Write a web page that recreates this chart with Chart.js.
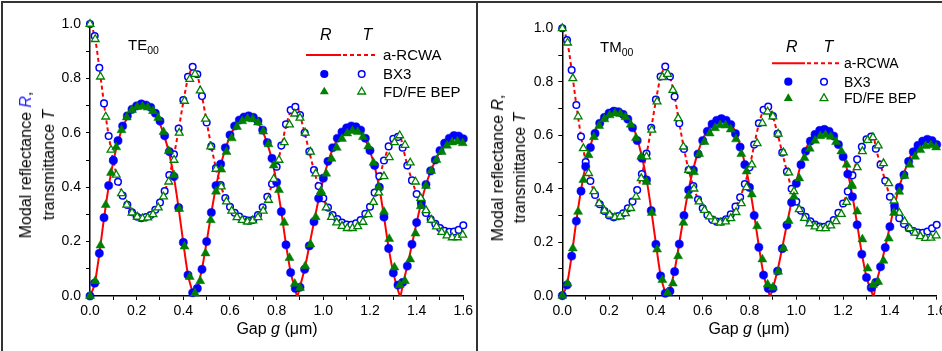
<!DOCTYPE html>
<html><head><meta charset="utf-8">
<script src="https://cdn.jsdelivr.net/npm/chart.js@4.4.1/dist/chart.umd.min.js"></script>
<style>
html,body{margin:0;padding:0;background:#fff;}
body{width:942px;height:351px;overflow:hidden;position:relative;font-family:"Liberation Sans",Arial,Helvetica,sans-serif;color:#000;}
canvas{position:absolute;top:0;}
.t{position:absolute;white-space:nowrap;line-height:18px;}
.yt{position:absolute;white-space:nowrap;text-align:center;font-size:16px;transform:translate(-50%,-50%) rotate(-90deg);}
.xt{position:absolute;white-space:nowrap;font-size:16px;line-height:20px;transform:translateX(-50%);}
.fr{position:absolute;background:#333;}
sub{font-size:0.7em;vertical-align:-0.35em;}
</style></head>
<body>
<canvas id="cL" width="477" height="351" style="left:0"></canvas>
<canvas id="cR" width="500" height="351" style="left:477px"></canvas>

<div class="fr" style="left:1px;top:1px;width:941px;height:2px"></div>
<div class="fr" style="left:1px;top:1px;width:2px;height:350px"></div>
<div class="fr" style="left:476px;top:1px;width:2px;height:350px"></div>

<!-- left panel texts -->
<div class="yt" style="left:36.5px;top:165px;line-height:23px">Modal reflectance <i style="color:#2020ff">R</i>,<br>transmittance <i>T</i></div>
<div class="xt" style="left:277px;top:319px">Gap <i>g</i> (μm)</div>
<div class="t" style="left:128px;top:36px;font-size:15px">TE<sub>00</sub></div>
<div class="t" style="left:320px;top:26px;font-size:16px"><i>R</i></div>
<div class="t" style="left:362.5px;top:26px;font-size:16px"><i>T</i></div>
<div class="t" style="left:383px;top:46px;font-size:15px">a-RCWA</div>
<div class="t" style="left:383px;top:65px;font-size:15px">BX3</div>
<div class="t" style="left:383px;top:82.7px;font-size:15px">FD/FE BEP</div>

<!-- right panel texts -->
<div class="yt" style="left:509px;top:168px;line-height:22px">Modal reflectance <i>R</i>,<br>transmittance <i>T</i></div>
<div class="xt" style="left:749px;top:319px">Gap <i>g</i> (μm)</div>
<div class="t" style="left:600px;top:38px;font-size:15px">TM<sub>00</sub></div>
<div class="t" style="left:786px;top:38px;font-size:16px"><i>R</i></div>
<div class="t" style="left:823.5px;top:38px;font-size:16px"><i>T</i></div>
<div class="t" style="left:844px;top:54.3px;font-size:14px">a-RCWA</div>
<div class="t" style="left:844px;top:72.7px;font-size:14px">BX3</div>
<div class="t" style="left:844px;top:89.3px;font-size:14px">FD/FE BEP</div>

<svg width="942" height="351" style="position:absolute;left:0;top:0;pointer-events:none">
  <line x1="306" y1="55" x2="341" y2="55" stroke="#ff0000" stroke-width="2"/>
  <line x1="343" y1="55" x2="377" y2="55" stroke="#ff0000" stroke-width="2" stroke-dasharray="4 3"/>
  <circle cx="324.3" cy="74" r="4.1" fill="#0000ff"/>
  <circle cx="361.7" cy="74" r="3.3" fill="#fff" stroke="#0000ff" stroke-width="1.5"/>
  <polygon points="324.3,86.7 319.8,94.3 328.8,94.3" fill="#008000"/>
  <polygon points="361.7,87.2 357.8,94 365.6,94" fill="#fff" stroke="#008000" stroke-width="1.3"/>

  <line x1="772" y1="63.3" x2="805" y2="63.3" stroke="#ff0000" stroke-width="2"/>
  <line x1="807" y1="63.3" x2="840" y2="63.3" stroke="#ff0000" stroke-width="2" stroke-dasharray="4 3"/>
  <circle cx="788.3" cy="81.7" r="4.1" fill="#0000ff"/>
  <circle cx="824" cy="81.7" r="3.3" fill="#fff" stroke="#0000ff" stroke-width="1.5"/>
  <polygon points="788.3,93.3 783.8,100.9 792.8,100.9" fill="#008000"/>
  <polygon points="824,93.8 820.1,100.6 827.9,100.6" fill="#fff" stroke="#008000" stroke-width="1.3"/>
</svg>

<script>
// ---------- grids (gap g in µm) ----------
const gBX = [0,0.02,0.04,0.06,0.08,0.1,0.12,0.14,0.16,0.18,
  0.2,0.22,0.24,0.26,0.28,0.3,0.32,0.34,0.36,0.38,
  0.4,0.42,0.44,0.46,0.48,0.5,0.52,0.54,0.56,0.58,
  0.6,0.62,0.64,0.66,0.68,0.7,0.72,0.74,0.76,0.78,
  0.8,0.82,0.84,0.86,0.88,0.9,0.92,0.94,0.96,0.98,
  1,1.02,1.04,1.06,1.08,1.1,1.12,1.14,1.16,1.18,
  1.2,1.22,1.24,1.26,1.28,1.3,1.32,1.34,1.36,1.38,
  1.4,1.42,1.44,1.46,1.48,1.5,1.52,1.54,1.56,1.58,
  1.6];
const gFD = [0,0.0225,0.045,0.0675,0.09,0.1125,0.135,0.1575,0.18,0.2025,
  0.225,0.2475,0.27,0.2925,0.315,0.3375,0.36,0.3825,0.405,0.4275,
  0.45,0.4725,0.495,0.5175,0.54,0.5625,0.585,0.6075,0.63,0.6525,
  0.675,0.6975,0.72,0.7425,0.765,0.7875,0.81,0.8325,0.855,0.8775,
  0.9,0.9225,0.945,0.9675,0.99,1.0125,1.035,1.0575,1.08,1.1025,
  1.125,1.1475,1.17,1.1925,1.215,1.2375,1.26,1.2825,1.305,1.3275,
  1.35,1.3725,1.395,1.4175,1.44,1.4625,1.485,1.5075,1.53,1.5525,
  1.575,1.5975];
const gRC = [0,0.02,0.04,0.06,0.08,0.1,0.12,0.14,0.16,0.18,
  0.2,0.22,0.24,0.26,0.28,0.3,0.32,0.34,0.36,0.38,
  0.4,0.42,0.44,0.445,0.46,0.48,0.5,0.52,0.54,0.56,
  0.58,0.6,0.62,0.64,0.66,0.68,0.7,0.72,0.74,0.76,
  0.78,0.8,0.82,0.84,0.86,0.88,0.888,0.9,0.92,0.94,
  0.96,0.98,1,1.02,1.04,1.06,1.08,1.1,1.12,1.14,
  1.16,1.18,1.2,1.22,1.24,1.26,1.28,1.3,1.32,1.33,
  1.34,1.36,1.38,1.4,1.42,1.44,1.46,1.48,1.5,1.52,
  1.54,1.56,1.58,1.6];

// ---------- TE00 (left) ----------
const teRcwaR = [0,.045,.155,.285,.402,.495,.567,.62,.655,.678,
  .69,.695,.692,.682,.662,.632,.584,.522,.435,.322,
  .195,.078,.014,0,.03,.1,.2,.305,.402,.48,
  .54,.587,.62,.642,.654,.657,.652,.636,.605,.56,
  .5,.415,.31,.19,.088,.022,0,.035,.1,.185,
  .272,.356,.43,.492,.54,.575,.598,.612,.618,.615,
  .602,.575,.532,.476,.398,.292,.177,.085,.022,0,
  .04,.11,.19,.27,.345,.408,.458,.497,.53,.555,
  .572,.58,.58,.572];
const teRcwaT = [1,.955,.84,.707,.59,.498,.425,.37,.333,.308,
  .293,.287,.289,.298,.315,.342,.383,.442,.518,.612,
  .714,.8,.84,.842,.812,.735,.64,.55,.47,.408,
  .36,.326,.303,.289,.28,.277,.28,.295,.322,.36,
  .41,.472,.548,.625,.678,.695,.698,.665,.6,.53,
  .462,.403,.357,.322,.296,.28,.268,.261,.26,.265,
  .277,.298,.328,.376,.436,.496,.548,.576,.585,.587,
  .55,.482,.425,.375,.334,.303,.28,.262,.248,.239,
  .235,.235,.24,.252];
const teBxR = [0,.047,.157,.288,.406,.498,.571,.625,.662,.686,
  .699,.706,.702,.694,.672,.643,.589,.531,.439,.325,
  .197,.077,.012,.028,.098,.2,.307,.406,.485,.545,
  .592,.625,.647,.658,.662,.657,.643,.61,.564,.506,
  .418,.31,.188,.086,.028,.032,.098,.184,.273,.359,
  .433,.495,.545,.58,.603,.618,.625,.622,.61,.58,
  .535,.48,.40,.29,.175,.085,.04,.05,.11,.19,
  .27,.345,.41,.46,.50,.535,.562,.58,.59,.588,
  .578];
const teBxT = [1,.956,.839,.708,.588,.50,.42,.369,.335,.308,
  .292,.286,.29,.298,.317,.344,.386,.445,.521,.616,
  .72,.806,.843,.815,.735,.638,.55,.47,.408,.36,
  .328,.306,.292,.281,.277,.28,.298,.326,.365,.412,
  .475,.553,.631,.684,.696,.665,.60,.531,.463,.404,
  .359,.325,.298,.283,.27,.263,.262,.267,.279,.302,
  .328,.38,.44,.498,.55,.578,.585,.545,.48,.425,
  .375,.335,.305,.282,.265,.25,.24,.236,.237,.243,
  .26];
const teFdR = [0,.055,.186,.335,.453,.547,.61,.657,.684,.695,
  .697,.693,.68,.655,.603,.533,.444,.32,.182,.07,
  .01,.055,.157,.279,.384,.465,.53,.58,.622,.643,
  .652,.65,.638,.605,.558,.48,.39,.27,.14,.045,
  .03,.11,.19,.29,.38,.45,.505,.545,.578,.598,
  .607,.603,.585,.55,.49,.40,.31,.21,.105,.04,
  .055,.135,.23,.33,.405,.46,.50,.53,.553,.565,
  .568,.562];
const teFdT = [1,.944,.806,.659,.537,.445,.377,.335,.306,.291,
  .285,.288,.30,.325,.365,.42,.50,.60,.717,.797,
  .816,.755,.651,.549,.467,.402,.347,.313,.289,.279,
  .273,.277,.289,.313,.353,.43,.50,.565,.63,.67,
  .655,.60,.53,.45,.386,.325,.29,.27,.257,.249,
  .249,.256,.272,.30,.345,.38,.44,.51,.565,.59,
  .555,.49,.42,.36,.315,.28,.255,.235,.222,.215,
  .215,.225];

// ---------- TM00 (right) ----------
const tmRcwaR = [0,.042,.15,.28,.395,.488,.56,.615,.652,.676,
  .692,.70,.698,.688,.668,.636,.588,.52,.436,.322,
  .195,.076,.012,0,.025,.095,.197,.302,.398,.475,
  .537,.585,.62,.647,.662,.667,.662,.645,.612,.562,
  .495,.41,.303,.185,.08,.018,0,.03,.095,.18,
  .268,.352,.425,.492,.545,.584,.61,.624,.628,.622,
  .604,.572,.527,.46,.373,.268,.158,.07,.018,0,
  .042,.108,.182,.26,.338,.408,.458,.506,.543,.568,
  .584,.591,.587,.573];
const tmRcwaT = [1,.956,.845,.713,.597,.502,.43,.378,.343,.318,
  .301,.294,.297,.307,.326,.352,.394,.454,.53,.626,
  .73,.818,.855,.857,.82,.745,.645,.55,.47,.41,
  .36,.327,.302,.285,.277,.277,.285,.303,.332,.368,
  .418,.48,.563,.642,.693,.706,.708,.672,.605,.535,
  .464,.40,.352,.318,.295,.278,.266,.259,.258,.265,
  .282,.309,.345,.39,.45,.51,.556,.584,.594,.596,
  .552,.49,.43,.37,.322,.29,.268,.252,.242,.236,
  .235,.24,.251,.264];
const tmBxR = [0,.04,.148,.279,.391,.483,.554,.607,.645,.667,
  .683,.69,.688,.678,.66,.628,.58,.514,.433,.318,
  .192,.074,.009,.017,.09,.193,.30,.395,.47,.53,
  .58,.615,.642,.656,.662,.656,.64,.606,.556,.49,
  .405,.30,.181,.077,.027,.027,.092,.176,.264,.349,
  .42,.49,.54,.578,.603,.618,.622,.615,.597,.565,
  .52,.455,.37,.265,.155,.068,.03,.05,.108,.18,
  .258,.335,.405,.452,.502,.538,.562,.578,.585,.58,
  .565];
const tmBxT = [1,.956,.844,.713,.595,.50,.429,.377,.342,.317,
  .30,.293,.298,.308,.327,.352,.395,.455,.532,.628,
  .734,.82,.857,.82,.745,.645,.549,.47,.41,.36,
  .327,.302,.285,.277,.277,.286,.304,.333,.368,.418,
  .48,.565,.645,.695,.707,.672,.605,.535,.464,.40,
  .352,.318,.295,.278,.266,.259,.258,.266,.283,.31,
  .345,.39,.45,.51,.557,.585,.595,.55,.49,.43,
  .37,.32,.29,.268,.252,.242,.236,.235,.24,.252,
  .265];
const tmFdR = [0,.046,.177,.314,.433,.526,.593,.635,.66,.675,
  .682,.68,.668,.64,.59,.52,.426,.31,.173,.059,
  .011,.046,.148,.273,.374,.462,.53,.575,.607,.627,
  .638,.637,.622,.585,.53,.465,.379,.26,.136,.042,
  .031,.09,.178,.28,.37,.439,.515,.55,.58,.597,
  .601,.595,.575,.54,.49,.41,.315,.211,.102,.04,
  .052,.131,.214,.31,.389,.448,.49,.52,.545,.56,
  .563,.555];
const tmFdT = [1,.946,.813,.67,.551,.458,.39,.345,.318,.302,
  .293,.296,.308,.327,.37,.439,.52,.62,.726,.817,
  .829,.769,.663,.557,.47,.40,.352,.32,.296,.279,
  .273,.277,.289,.312,.345,.405,.49,.57,.645,.688,
  .67,.605,.535,.46,.39,.323,.29,.27,.258,.252,
  .252,.262,.278,.305,.35,.415,.48,.54,.582,.592,
  .561,.495,.42,.355,.31,.278,.252,.235,.222,.215,
  .216,.225];

// ---------- tick labels ----------
const xTickLabels = ['0.0','0.2','0.4','0.6','0.8','1.0','1.2','1.4','1.6'];
const yTickLabels = ['0.0','0.2','0.4','0.6','0.8','1.0'];

const RED = '#ff0000', BLUE = '#0000ff', GREEN = '#008000';
const FONT = '"Liberation Sans", Arial, Helvetica, sans-serif';

function pts(xs, ys) { return xs.map((x, i) => ({ x: x, y: ys[i] })); }

function makeChart(id, area, W, H, s, fontSize) {
  const ctx = document.getElementById(id).getContext('2d');
  return new Chart(ctx, {
    type: 'line',
    data: {
      datasets: [
        { data: pts(gFD, s.fdR), showLine: false, pointStyle: 'triangle', pointRadius: 5.2,
          pointBackgroundColor: GREEN, pointBorderColor: GREEN, pointBorderWidth: 0.5, order: 1, clip: 7 },
        { data: pts(gFD, s.fdT), showLine: false, pointStyle: 'triangle', pointRadius: 4.5,
          pointBackgroundColor: '#ffffff', pointBorderColor: GREEN, pointBorderWidth: 1.3, order: 1, clip: 7 },
        { data: pts(gBX, s.bxR), showLine: false, pointStyle: 'circle', pointRadius: 4.1,
          pointBackgroundColor: BLUE, pointBorderColor: BLUE, pointBorderWidth: 0.5, order: 2, clip: 7 },
        { data: pts(gBX, s.bxT), showLine: false, pointStyle: 'circle', pointRadius: 3.3,
          pointBackgroundColor: '#ffffff', pointBorderColor: BLUE, pointBorderWidth: 1.5, order: 2, clip: 7 },
        { data: pts(gRC, s.rcR), borderColor: RED, borderWidth: 2, pointRadius: 0,
          cubicInterpolationMode: 'monotone', fill: false, order: 3 },
        { data: pts(gRC, s.rcT), borderColor: RED, borderWidth: 2, borderDash: [4, 3], pointRadius: 0,
          cubicInterpolationMode: 'monotone', fill: false, order: 3 }
      ]
    },
    options: {
      responsive: false, animation: false, devicePixelRatio: 1, events: [],
      layout: { padding: { left: 0, top: area.top, right: W - area.right, bottom: 0 } },
      plugins: { legend: { display: false }, tooltip: { enabled: false }, title: { display: false } },
      scales: {
        x: {
          type: 'linear', min: 0, max: 1.6,
          afterFit: (sc) => { sc.height = H - area.bottom; },
          border: { display: true, color: '#000', width: 1.5 },
          grid: { display: true, drawOnChartArea: false, drawTicks: true, tickLength: 4, tickColor: '#000', tickWidth: 1 },
          ticks: {
            stepSize: 0.1, autoSkip: false, maxRotation: 0, padding: 3, color: '#000',
            font: { family: FONT, size: fontSize },
            callback: (v) => { const k = Math.round(v * 10); return k % 2 === 0 ? xTickLabels[k / 2] : ''; }
          }
        },
        y: {
          type: 'linear', min: 0, max: 1,
          afterFit: (sc) => { sc.width = area.left; },
          border: { display: true, color: '#000', width: 1.5 },
          grid: { display: true, drawOnChartArea: false, drawTicks: true, tickLength: 4, tickColor: '#000', tickWidth: 1 },
          ticks: {
            stepSize: 0.1, autoSkip: false, padding: 5, color: '#000',
            font: { family: FONT, size: fontSize },
            callback: (v) => { const k = Math.round(v * 10); return k % 2 === 0 ? yTickLabels[k / 2] : ''; }
          }
        }
      }
    }
  });
}

makeChart('cL', { left: 90, right: 463.3, top: 24, bottom: 296 }, 477, 351,
  { rcR: teRcwaR, rcT: teRcwaT, bxR: teBxR, bxT: teBxT, fdR: teFdR, fdT: teFdT }, 14);
makeChart('cR', { left: 85.3, right: 459.7, top: 28.3, bottom: 295.7 }, 500, 351,
  { rcR: tmRcwaR, rcT: tmRcwaT, bxR: tmBxR, bxT: tmBxT, fdR: tmFdR, fdT: tmFdT }, 14);
</script>
</body></html>
